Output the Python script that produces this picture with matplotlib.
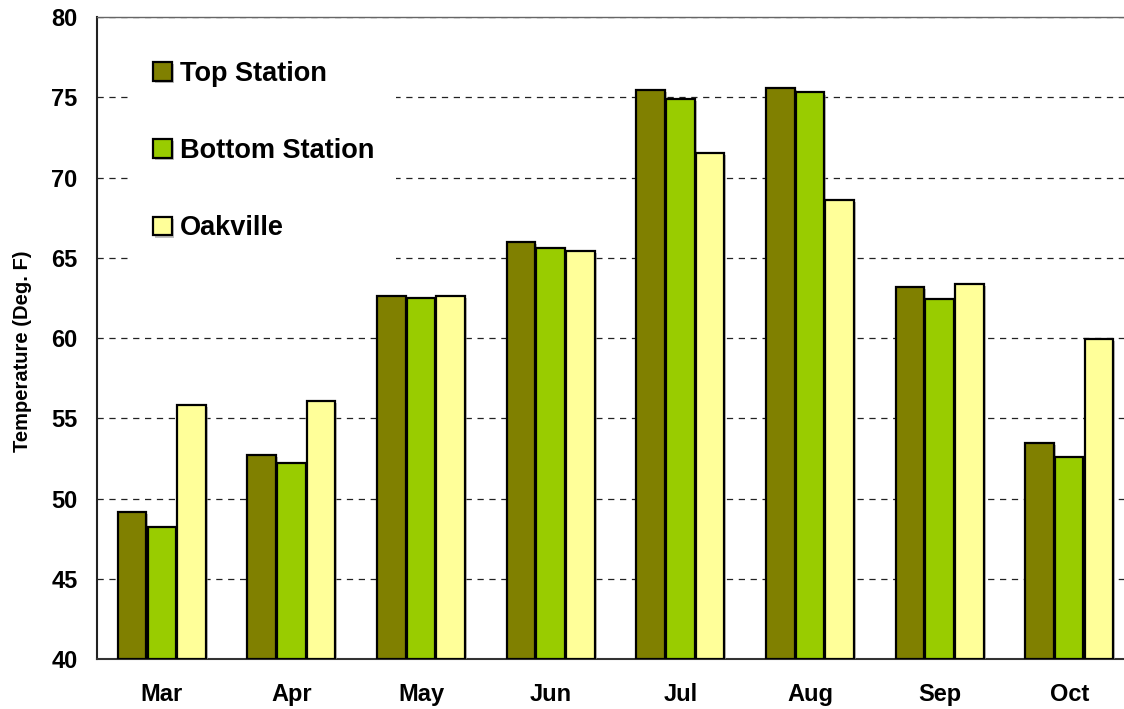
import matplotlib.pyplot as plt
import matplotlib.patheffects as pe
import numpy as np

plt.rcParams['font.family'] = ['Liberation Sans', 'DejaVu Sans']
plt.rcParams['font.weight'] = 'bold'

months = ['Mar', 'Apr', 'May', 'Jun', 'Jul', 'Aug', 'Sep', 'Oct']
top_station = [49.15, 52.7, 62.6, 66.0, 75.45, 75.6, 63.2, 53.45]
bottom_station = [48.25, 52.2, 62.5, 65.6, 74.9, 75.3, 62.45, 52.6]
oakville = [55.85, 56.1, 62.6, 65.45, 71.55, 68.6, 63.35, 59.95]

series = [('Top Station', top_station, '#808000'),
          ('Bottom Station', bottom_station, '#99CC00'),
          ('Oakville', oakville, '#FFFF99')]

fig = plt.figure(figsize=(11.24, 7.09), dpi=100)
# plot area runs a little past the right edge of the figure
ax = fig.add_axes([0.0863, 0.0705, 0.9226, 0.9055])

x = np.arange(len(months))
width = 0.22
step = 0.229
shadow = [pe.SimplePatchShadow(offset=(1.5, -1.5), shadow_rgbFace='#999999', alpha=0.6), pe.Normal()]

for i, (name, vals, color) in enumerate(series):
    bars = ax.bar(x + (i - 1) * step, np.array(vals) - 40, width, bottom=40,
                  color=color, edgecolor='black', linewidth=1.6, label=name, zorder=3)
    for b in bars:
        b.set_path_effects(shadow)

ax.set_xlim(-0.5, 7.5)
ax.set_ylim(40, 80)
ax.set_yticks(range(40, 81, 5))
ax.set_xticks(x)
ax.set_xticklabels(months)
ax.tick_params(axis='both', length=0, labelsize=17)
ax.tick_params(axis='y', pad=14)
ax.tick_params(axis='x', pad=17)

ax.yaxis.grid(True, linestyle=(0, (5, 4.5)), color='#222222', linewidth=0.9, zorder=0)
ax.set_axisbelow(True)

ax.spines['left'].set_linewidth(1.5)
ax.spines['left'].set_color('#222222')
ax.spines['bottom'].set_linewidth(1.5)
ax.spines['bottom'].set_color('#333333')
ax.spines['top'].set_linewidth(1.0)
ax.spines['top'].set_color('#666666')
ax.spines['right'].set_visible(False)

ax.set_ylabel('Temperature (Deg. F)', fontsize=14.5, fontweight='bold')
ax.yaxis.set_label_coords(-0.063, 0.479)

leg = ax.legend(loc='upper left', bbox_to_anchor=(0.02, 0.987), fontsize=19.5,
                frameon=True, fancybox=False, edgecolor='none', framealpha=1,
                handlelength=0.7, handleheight=0.7, handletextpad=0.3,
                labelspacing=1.9, borderpad=0.8)
leg.get_frame().set_linewidth(0)
leg.set_zorder(5)

fig.savefig('out.png', dpi=100)
